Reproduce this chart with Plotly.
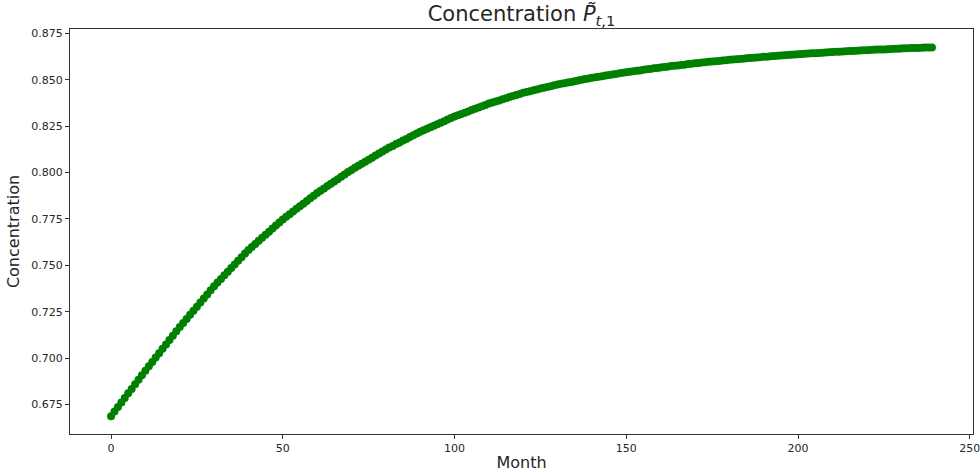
import plotly.graph_objects as go

months = list(range(240))
concentration = [
    0.6687, 0.6712, 0.6736, 0.6761, 0.6785, 0.6810, 0.6834, 0.6859, 0.6883, 0.6908,
    0.6932, 0.6956, 0.6979, 0.7003, 0.7026, 0.7050, 0.7073, 0.7097, 0.7120, 0.7144,
    0.7167, 0.7189, 0.7211, 0.7233, 0.7255, 0.7277, 0.7299, 0.7321, 0.7343, 0.7365,
    0.7387, 0.7407, 0.7426, 0.7446, 0.7465, 0.7485, 0.7504, 0.7524, 0.7543, 0.7563,
    0.7582, 0.7599, 0.7615, 0.7632, 0.7648, 0.7665, 0.7681, 0.7698, 0.7714, 0.7731,
    0.7747, 0.7761, 0.7775, 0.7790, 0.7804, 0.7818, 0.7832, 0.7846, 0.7861, 0.7875,
    0.7889, 0.7902, 0.7914, 0.7927, 0.7939, 0.7952, 0.7964, 0.7977, 0.7989, 0.8002,
    0.8014, 0.8025, 0.8036, 0.8047, 0.8058, 0.8069, 0.8080, 0.8091, 0.8102, 0.8113,
    0.8124, 0.8134, 0.8143, 0.8153, 0.8162, 0.8172, 0.8181, 0.8191, 0.8200, 0.8210,
    0.8219, 0.8227, 0.8235, 0.8244, 0.8252, 0.8260, 0.8268, 0.8276, 0.8285, 0.8293,
    0.8301, 0.8308, 0.8315, 0.8322, 0.8329, 0.8336, 0.8343, 0.8350, 0.8357, 0.8364,
    0.8371, 0.8377, 0.8383, 0.8388, 0.8394, 0.8400, 0.8406, 0.8412, 0.8417, 0.8423,
    0.8429, 0.8433, 0.8438, 0.8443, 0.8447, 0.8452, 0.8456, 0.8461, 0.8465, 0.8470,
    0.8474, 0.8478, 0.8481, 0.8485, 0.8488, 0.8492, 0.8496, 0.8499, 0.8503, 0.8506,
    0.8510, 0.8513, 0.8516, 0.8519, 0.8522, 0.8525, 0.8528, 0.8531, 0.8534, 0.8537,
    0.8540, 0.8543, 0.8545, 0.8548, 0.8550, 0.8553, 0.8556, 0.8558, 0.8561, 0.8563,
    0.8566, 0.8568, 0.8570, 0.8573, 0.8575, 0.8577, 0.8579, 0.8581, 0.8584, 0.8586,
    0.8588, 0.8590, 0.8592, 0.8594, 0.8596, 0.8598, 0.8599, 0.8601, 0.8603, 0.8605,
    0.8607, 0.8609, 0.8610, 0.8612, 0.8613, 0.8615, 0.8617, 0.8618, 0.8620, 0.8621,
    0.8623, 0.8624, 0.8626, 0.8627, 0.8629, 0.8630, 0.8631, 0.8633, 0.8634, 0.8636,
    0.8637, 0.8638, 0.8639, 0.8641, 0.8642, 0.8643, 0.8644, 0.8645, 0.8647, 0.8648,
    0.8649, 0.8650, 0.8651, 0.8652, 0.8653, 0.8654, 0.8655, 0.8656, 0.8657, 0.8658,
    0.8659, 0.8660, 0.8661, 0.8662, 0.8663, 0.8663, 0.8664, 0.8665, 0.8666, 0.8667,
    0.8668, 0.8669, 0.8669, 0.8670, 0.8671, 0.8671, 0.8672, 0.8673, 0.8673, 0.8674,
]
x_ticks = [0, 50, 100, 150, 200, 250]
y_ticks = [0.675, 0.700, 0.725, 0.750, 0.775, 0.800, 0.825, 0.850, 0.875]

FONT = "DejaVu Sans"
TXT = "#262626"

fig = go.Figure()
fig.add_trace(go.Scatter(
    x=months, y=concentration, mode="lines+markers",
    line=dict(color="#008000", width=2),
    marker=dict(color="#008000", size=8, line=dict(width=0)),
    showlegend=False,
))

axis_common = dict(
    showline=True, linecolor="#333333", linewidth=1, mirror=True,
    ticks="outside", ticklen=4, tickwidth=1, tickcolor="#333333",
    showgrid=False, zeroline=False, automargin=False,
    ticklabeloverflow="allow",
    tickfont=dict(family=FONT, size=11, color=TXT),
)

fig.update_layout(
    width=980, height=472,
    margin=dict(l=70, r=7, t=29, b=38, autoexpand=False),
    paper_bgcolor="white", plot_bgcolor="white",
    font=dict(family=FONT, color=TXT),
    title=dict(
        text="Concentration <i>P̃</i><sub><i>t</i>,1</sub>",
        x=0.5, xanchor="center", xref="paper",
        y=1 - 14 / 472, yanchor="middle", yref="container",
        automargin=False,
        font=dict(family=FONT, size=21, color=TXT),
    ),
    xaxis=dict(
        range=[-11.95, 250.95], tickvals=x_ticks,
        title=dict(text="Month", font=dict(family=FONT, size=16, color=TXT), standoff=3),
        **axis_common,
    ),
    yaxis=dict(
        range=[0.6591, 0.8773], tickvals=y_ticks, tickformat=".3f",
        title=dict(text="Concentration", font=dict(family=FONT, size=16, color=TXT), standoff=7),
        **axis_common,
    ),
)

fig.write_html(
    "out.html",
    config={"displayModeBar": False},
    post_script="document.body.style.margin='0px';document.body.style.overflow='hidden';",
)
